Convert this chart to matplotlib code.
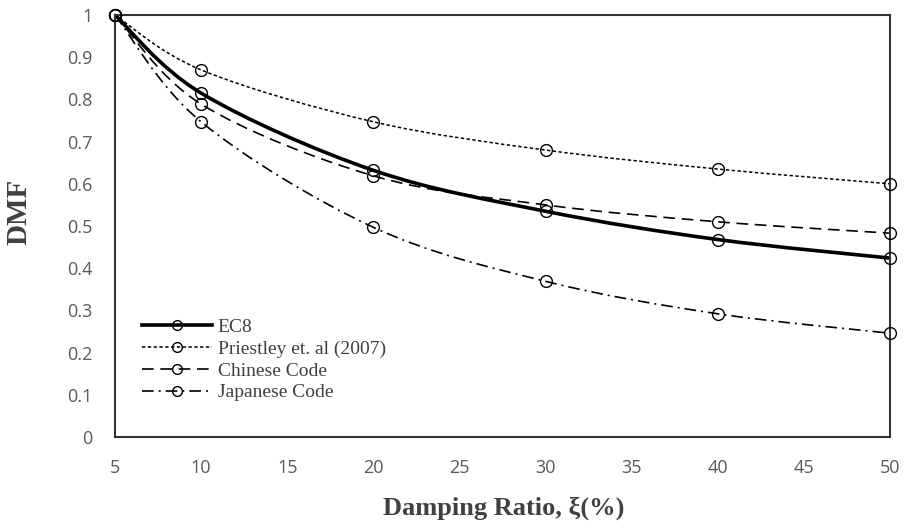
import numpy as np
import matplotlib
matplotlib.use("Agg")
import matplotlib.pyplot as plt
from matplotlib.path import Path
from matplotlib.patches import PathPatch
from matplotlib.lines import Line2D

damping = [5, 10, 20, 30, 40, 50]
ec8 = [1.0, 0.815, 0.632, 0.535, 0.468, 0.424]
priestley = [1.0, 0.870, 0.747, 0.680, 0.635, 0.600]
chinese = [1.0, 0.789, 0.619, 0.550, 0.510, 0.483]
japanese = [1.0, 0.747, 0.497, 0.369, 0.292, 0.246]
labels = ["EC8", "Priestley et. al (2007)", "Chinese Code", "Japanese Code"]

styles = [
    dict(lw=2.6, ls="-"),
    dict(lw=1.1, ls=(0, (2.2, 1.6))),
    dict(lw=1.2, ls=(0, (7, 4))),
    dict(lw=1.2, ls=(0, (7, 3, 1.2, 3))),
]

def smooth_path(x, y, t=1/6):
    x = np.asarray(x, float); y = np.asarray(y, float)
    n = len(x)
    verts = [(x[0], y[0])]
    codes = [Path.MOVETO]
    for i in range(n - 1):
        p0 = i - 1 if i > 0 else i
        p3 = i + 2 if i + 2 < n else i + 1
        c1 = (x[i] + (x[i + 1] - x[p0]) * t, y[i] + (y[i + 1] - y[p0]) * t)
        c2 = (x[i + 1] - (x[p3] - x[i]) * t, y[i + 1] - (y[p3] - y[i]) * t)
        verts += [c1, c2, (x[i + 1], y[i + 1])]
        codes += [Path.CURVE4] * 3
    return Path(verts, codes)

fig = plt.figure(figsize=(9.05, 5.28), dpi=100)
ax = fig.add_axes([0.127, 0.1723, 0.8564, 0.7993])

handles = []
for series, st, lab in zip([ec8, priestley, chinese, japanese], styles, labels):
    patch = PathPatch(smooth_path(damping, series), fill=False, edgecolor="black",
                      linewidth=st["lw"], linestyle=st["ls"], zorder=2)
    ax.add_patch(patch)
    ax.plot(damping, series, linestyle="none", marker="o", markersize=8.5,
            markerfacecolor="none", markeredgecolor="black", markeredgewidth=1.0,
            zorder=3, clip_on=False)
    handles.append(Line2D([], [], color="black", linewidth=st["lw"], linestyle=st["ls"],
                          marker="o", markersize=7, markerfacecolor="none",
                          markeredgecolor="black", markeredgewidth=1.0))

ax.set_xlim(5, 50)
ax.set_ylim(0, 1)
ax.set_xticks(np.arange(5, 51, 5))
ax.set_yticks(np.arange(0, 1.01, 0.1))
ax.set_yticklabels(["0"] + [f"{v:.1f}" for v in np.arange(0.1, 0.95, 0.1)] + ["1"])
ax.tick_params(length=0, labelsize=13, colors="#595959")
ax.tick_params(axis="x", pad=16)
ax.tick_params(axis="y", pad=16)
for lab in ax.get_xticklabels() + ax.get_yticklabels():
    lab.set_fontfamily("Open Sans")
for s in ax.spines.values():
    s.set_linewidth(1.5)
    s.set_color("#333333")

ax.set_xlabel("Damping Ratio, ξ(%)", fontfamily="Liberation Serif", fontweight="bold",
              fontsize=19, color="#404040")
ax.xaxis.set_label_coords(0.502, -0.140)
ax.set_ylabel("DMF", fontfamily="Liberation Serif", fontweight="bold",
              fontsize=21, color="#404040")
ax.yaxis.set_label_coords(-0.106, 0.533)

leg = ax.legend(handles, labels, loc="lower left", bbox_to_anchor=(0.012, 0.043),
                frameon=False, handlelength=3.6, handletextpad=0.3, labelspacing=0.21,
                prop={"family": "Liberation Serif", "size": 14})
for t in leg.get_texts():
    t.set_color("#404040")

fig.savefig("out.png", dpi=100)
